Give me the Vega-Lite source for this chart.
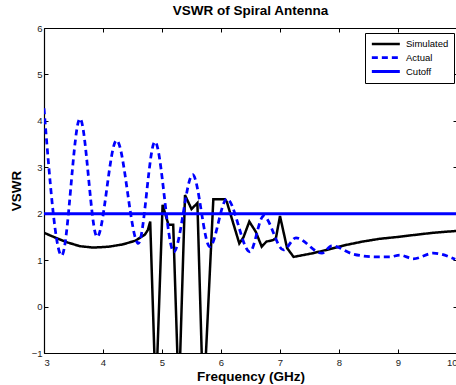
{
  "$schema": "https://vega.github.io/schema/vega-lite/v6.json",
  "width": 413,
  "height": 325,
  "autosize": {"type": "none"},
  "padding": {"left": 44, "top": 28, "right": 0, "bottom": 32},
  "background": "white",
  "title": {"text": "VSWR of Spiral Antenna", "fontSize": 13.5, "fontWeight": "bold", "font": "Liberation Sans", "color": "black", "offset": 6},
  "config": {
    "view": {"stroke": null},
    "font": "Liberation Sans",
    "axis": {"domainColor": "black", "domainWidth": 1.2, "tickColor": "black", "tickSize": -4, "labelFontSize": 9.5, "labelColor": "#222", "titleFontSize": 13.5, "titleFontWeight": "bold", "titleColor": "black", "grid": false, "labelFont": "Liberation Sans", "titleFont": "Liberation Sans"},
    "legend": {"orient": "none", "legendX": 321, "legendY": 5, "strokeColor": "black", "fillColor": "white", "padding": 5, "labelFontSize": 9.5, "labelColor": "black", "labelFont": "Liberation Sans", "symbolType": "M-1,0H5", "symbolSize": 87, "labelOffset": 23, "rowPadding": 2, "title": null}
  },
  "data": {"values": [
    {"f": 3.0, "v": 1.59, "s": "Simulated"},
    {"f": 3.2, "v": 1.48, "s": "Simulated"},
    {"f": 3.4, "v": 1.38, "s": "Simulated"},
    {"f": 3.61, "v": 1.30, "s": "Simulated"},
    {"f": 3.84, "v": 1.27, "s": "Simulated"},
    {"f": 4.1, "v": 1.29, "s": "Simulated"},
    {"f": 4.34, "v": 1.34, "s": "Simulated"},
    {"f": 4.55, "v": 1.42, "s": "Simulated"},
    {"f": 4.71, "v": 1.55, "s": "Simulated"},
    {"f": 4.76, "v": 1.65, "s": "Simulated"},
    {"f": 4.80, "v": 1.83, "s": "Simulated"},
    {"f": 4.895, "v": -2.0, "s": "Simulated"},
    {"f": 5.01, "v": 2.19, "s": "Simulated"},
    {"f": 5.11, "v": 1.76, "s": "Simulated"},
    {"f": 5.19, "v": 1.76, "s": "Simulated"},
    {"f": 5.285, "v": -2.0, "s": "Simulated"},
    {"f": 5.39, "v": 2.40, "s": "Simulated"},
    {"f": 5.50, "v": 2.10, "s": "Simulated"},
    {"f": 5.60, "v": 2.23, "s": "Simulated"},
    {"f": 5.70, "v": -2.2, "s": "Simulated"},
    {"f": 5.87, "v": 2.31, "s": "Simulated"},
    {"f": 6.07, "v": 2.31, "s": "Simulated"},
    {"f": 6.10, "v": 2.25, "s": "Simulated"},
    {"f": 6.31, "v": 1.36, "s": "Simulated"},
    {"f": 6.38, "v": 1.49, "s": "Simulated"},
    {"f": 6.48, "v": 1.83, "s": "Simulated"},
    {"f": 6.59, "v": 1.61, "s": "Simulated"},
    {"f": 6.69, "v": 1.29, "s": "Simulated"},
    {"f": 6.77, "v": 1.40, "s": "Simulated"},
    {"f": 6.88, "v": 1.43, "s": "Simulated"},
    {"f": 6.93, "v": 1.47, "s": "Simulated"},
    {"f": 7.0, "v": 1.95, "s": "Simulated"},
    {"f": 7.12, "v": 1.26, "s": "Simulated"},
    {"f": 7.23, "v": 1.07, "s": "Simulated"},
    {"f": 7.56, "v": 1.15, "s": "Simulated"},
    {"f": 7.85, "v": 1.24, "s": "Simulated"},
    {"f": 8.13, "v": 1.33, "s": "Simulated"},
    {"f": 8.4, "v": 1.40, "s": "Simulated"},
    {"f": 8.69, "v": 1.46, "s": "Simulated"},
    {"f": 9.0, "v": 1.50, "s": "Simulated"},
    {"f": 9.26, "v": 1.54, "s": "Simulated"},
    {"f": 9.6, "v": 1.59, "s": "Simulated"},
    {"f": 10.0, "v": 1.63, "s": "Simulated"},
    {"f": 3.0, "v": 4.27, "s": "Actual"},
    {"f": 3.3, "v": 1.10, "s": "Actual"},
    {"f": 3.61, "v": 4.05, "s": "Actual"},
    {"f": 3.90, "v": 1.50, "s": "Actual"},
    {"f": 4.23, "v": 3.58, "s": "Actual"},
    {"f": 4.60, "v": 1.36, "s": "Actual"},
    {"f": 4.88, "v": 3.55, "s": "Actual"},
    {"f": 5.20, "v": 1.18, "s": "Actual"},
    {"f": 5.52, "v": 2.84, "s": "Actual"},
    {"f": 5.81, "v": 1.29, "s": "Actual"},
    {"f": 6.10, "v": 2.32, "s": "Actual"},
    {"f": 6.49, "v": 1.18, "s": "Actual"},
    {"f": 6.72, "v": 1.95, "s": "Actual"},
    {"f": 7.06, "v": 1.22, "s": "Actual"},
    {"f": 7.27, "v": 1.48, "s": "Actual"},
    {"f": 7.71, "v": 1.15, "s": "Actual"},
    {"f": 7.88, "v": 1.31, "s": "Actual"},
    {"f": 8.24, "v": 1.13, "s": "Actual"},
    {"f": 8.64, "v": 1.07, "s": "Actual"},
    {"f": 8.86, "v": 1.07, "s": "Actual"},
    {"f": 9.03, "v": 1.11, "s": "Actual"},
    {"f": 9.26, "v": 1.03, "s": "Actual"},
    {"f": 9.6, "v": 1.15, "s": "Actual"},
    {"f": 9.97, "v": 1.02, "s": "Actual"},
    {"f": 3.0, "v": 2.0, "s": "Cutoff"},
    {"f": 10.0, "v": 2.0, "s": "Cutoff"}
  ]},
  "encoding": {
    "x": {"field": "f", "type": "quantitative", "scale": {"domain": [3, 10], "nice": false, "zero": false}},
    "y": {"field": "v", "type": "quantitative", "scale": {"domain": [-1, 6], "nice": false, "zero": false}},
    "color": {"field": "s", "type": "nominal", "scale": {"domain": ["Simulated", "Actual", "Cutoff"], "range": ["#000000", "#0000ff", "#0000ff"]}},
    "strokeDash": {"field": "s", "type": "nominal", "scale": {"domain": ["Simulated", "Actual", "Cutoff"], "range": [[1, 0], [6, 4], [1, 0]]}},
    "strokeWidth": {"field": "s", "type": "ordinal", "scale": {"domain": ["Simulated", "Actual", "Cutoff"], "range": [2.5, 3, 4.5]}}
  },
  "layer": [
    {
      "transform": [{"filter": "datum.s === 'Simulated'"}],
      "mark": {"type": "line", "clip": true},
      "encoding": {
        "x": {"field": "f", "type": "quantitative", "title": "Frequency (GHz)", "axis": {"values": [3, 4, 5, 6, 7, 8, 9, 10], "labelPadding": 8, "titlePadding": 3}},
        "y": {"field": "v", "type": "quantitative", "title": "VSWR", "axis": {"values": [-1, 0, 1, 2, 3, 4, 5, 6], "labelPadding": 6, "titlePadding": 8}}
      }
    },
    {
      "transform": [{"filter": "datum.s === 'Actual'"}],
      "mark": {"type": "line", "clip": true, "interpolate": "monotone"},
      "encoding": {
        "x": {"field": "f", "type": "quantitative", "axis": null},
        "y": {"field": "v", "type": "quantitative", "axis": null}
      }
    },
    {
      "transform": [{"filter": "datum.s === 'Cutoff'"}],
      "mark": {"type": "line", "clip": true},
      "encoding": {
        "x": {"field": "f", "type": "quantitative", "axis": {"orient": "top", "labels": false, "title": null, "values": [3, 4, 5, 6, 7, 8, 9, 10]}},
        "y": {"field": "v", "type": "quantitative", "axis": {"orient": "right", "labels": false, "title": null, "values": [-1, 0, 1, 2, 3, 4, 5, 6]}}
      }
    }
  ],
  "resolve": {"axis": {"x": "independent", "y": "independent"}}
}
